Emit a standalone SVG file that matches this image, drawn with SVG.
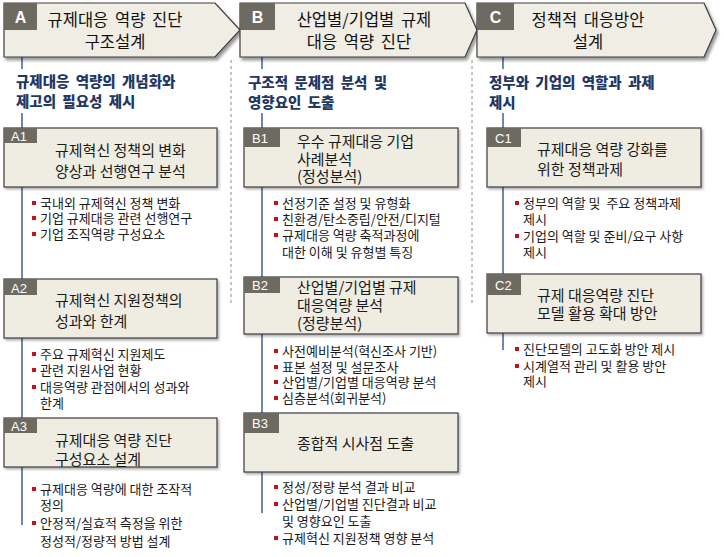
<svg xmlns="http://www.w3.org/2000/svg" width="724" height="557" viewBox="0 0 724 557">
<defs>
<filter id="sh" x="-5%" y="-10%" width="115%" height="130%">
<feDropShadow dx="2" dy="3" stdDeviation="1.6" flood-color="#000" flood-opacity="0.4"/>
</filter>
<filter id="sh2" x="-5%" y="-10%" width="115%" height="130%">
<feDropShadow dx="1.5" dy="2" stdDeviation="1.2" flood-color="#000" flood-opacity="0.3"/>
</filter>
<style>
.hd{fill:#efede4;stroke:#3c3c3c;stroke-width:1.2;filter:url(#sh)}
.bx{fill:#efece2;stroke:#3c3c3c;stroke-width:1.2;filter:url(#sh2)}
.lb{fill:#6d6a62}
.lt{fill:#fff;font-family:"Liberation Sans",Arial,sans-serif;font-size:13px}
.ht{fill:#fff;font-family:"Liberation Sans",Arial,sans-serif;font-size:16px;font-weight:bold;text-anchor:middle}
.h{font-family:"Noto Sans CJK KR","Noto Sans",sans-serif;font-size:16.5px;word-spacing:3px;fill:#111;text-anchor:middle}
.sub{font-family:"Noto Sans CJK KR",sans-serif;font-size:14.5px;word-spacing:3px;font-weight:900;fill:#1f3864}
.t{font-family:"Noto Sans CJK KR",sans-serif;font-size:15px;fill:#1a1a1a}
.b{font-family:"Noto Sans CJK KR",sans-serif;font-size:13px;fill:#1a1a1a;white-space:pre}
.bul{fill:#c0141c}
.vl{stroke:#6d89b3;stroke-width:2;fill:none}
.dv{stroke:#8a8a8a;stroke-width:1;stroke-dasharray:3 3;fill:none}
</style>
</defs>
<rect width="724" height="557" fill="#fff"/>

<g id="connectors">
<path class="dv" d="M231,60V303M472,60V305"/>
<path class="vl" d="M22,57V69M22,113V128M22,187V279M22,338V418M22,467V525"/>
<path class="vl" d="M262,57V69M262,113V128M262,187V277M262,334V413M262,472V513"/>
<path class="vl" d="M503,57V69M503,113V128M503,187V274M503,333V350"/>
</g>

<g id="header-A">
<path class="hd" d="M4,3H215L240,30L215,57H4Z"/>
<rect class="lb" x="4" y="3" width="33" height="27"/>
<text class="ht" x="20.5" y="23">A</text>
<text class="h" x="115" y="26">규제대응 역량 진단</text>
<text class="h" x="115" y="48">구조설계</text>
<text class="sub" x="16" y="87">규제대응 역량의 개념화와</text>
<text class="sub" x="16" y="107">제고의 필요성 제시</text>
</g>

<g id="header-B">
<path class="hd" d="M240,3H465L477,30L465,57H240Z"/>
<rect class="lb" x="240" y="3" width="35" height="27"/>
<text class="ht" x="257.5" y="23">B</text>
<text class="h" x="364" y="26">산업별/기업별 규제</text>
<text class="h" x="359" y="48">대응 역량 진단</text>
<text class="sub" x="248" y="88">구조적 문제점 분석 및</text>
<text class="sub" x="248" y="108">영향요인 도출</text>
</g>

<g id="header-C">
<path class="hd" d="M477,3H704L716,30L704,57H477Z"/>
<rect class="lb" x="477" y="3" width="37" height="27"/>
<text class="ht" x="495.5" y="23">C</text>
<text class="h" x="588" y="26">정책적 대응방안</text>
<text class="h" x="588" y="48">설계</text>
<text class="sub" x="489" y="88">정부와 기업의 역할과 과제</text>
<text class="sub" x="489" y="108">제시</text>
</g>

<g id="A1">
<rect class="bx" x="4" y="128" width="213" height="59"/>
<rect class="lb" x="4" y="128" width="33" height="15"/>
<text class="lt" x="11" y="141">A1</text>
<text class="t" x="55" y="156">규제혁신 정책의 변화</text>
<text class="t" x="55" y="177">양상과 선행연구 분석</text>
<rect class="bul" x="32" y="201" width="4" height="4"/>
<rect class="bul" x="32" y="216" width="4" height="4"/>
<rect class="bul" x="32" y="232" width="4" height="4"/>
<text class="b" x="40" y="208">국내외 규제혁신 정책 변화</text>
<text class="b" x="40" y="223">기업 규제대응 관련 선행연구</text>
<text class="b" x="40" y="239">기업 조직역량 구성요소</text>
</g>

<g id="A2">
<rect class="bx" x="4" y="279" width="213" height="59"/>
<rect class="lb" x="4" y="279" width="33" height="16"/>
<text class="lt" x="11" y="293">A2</text>
<text class="t" x="55" y="306">규제혁신 지원정책의</text>
<text class="t" x="55" y="327">성과와 한계</text>
<rect class="bul" x="32" y="352" width="4" height="4"/>
<rect class="bul" x="32" y="368" width="4" height="4"/>
<rect class="bul" x="32" y="385" width="4" height="4"/>
<text class="b" x="40" y="359">주요 규제혁신 지원제도</text>
<text class="b" x="40" y="375">관련 지원사업 현황</text>
<text class="b" x="40" y="392">대응역량 관점에서의 성과와</text>
<text class="b" x="40" y="408">한계</text>
</g>

<g id="A3">
<rect class="bx" x="4" y="418" width="213" height="49"/>
<rect class="lb" x="4" y="418" width="33" height="15"/>
<text class="lt" x="11" y="431">A3</text>
<text class="t" x="55" y="446">규제대응 역량 진단</text>
<text class="t" x="55" y="465">구성요소 설계</text>
<rect class="bul" x="32" y="487" width="4" height="4"/>
<rect class="bul" x="32" y="521" width="4" height="4"/>
<text class="b" x="40" y="494">규제대응 역량에 대한 조작적</text>
<text class="b" x="40" y="510">정의</text>
<text class="b" x="40" y="528">안정적/실효적 측정을 위한</text>
<text class="b" x="40" y="546">정성적/정량적 방법 설계</text>
</g>

<g id="B1">
<rect class="bx" x="244" y="128" width="214" height="59"/>
<rect class="lb" x="244" y="128" width="36" height="19"/>
<text class="lt" x="252" y="143">B1</text>
<text class="t" x="297" y="147">우수 규제대응 기업</text>
<text class="t" x="297" y="165">사례분석</text>
<text class="t" x="297" y="182">(정성분석)</text>
<rect class="bul" x="274" y="201" width="4" height="4"/>
<rect class="bul" x="274" y="217" width="4" height="4"/>
<rect class="bul" x="274" y="233" width="4" height="4"/>
<text class="b" x="282" y="208">선정기준 설정 및 유형화</text>
<text class="b" x="282" y="224">친환경/탄소중립/안전/디지털</text>
<text class="b" x="282" y="240">규제대응 역량 축적과정에</text>
<text class="b" x="282" y="257">대한 이해 및 유형별 특징</text>
</g>

<g id="B2">
<rect class="bx" x="244" y="277" width="214" height="57"/>
<rect class="lb" x="244" y="277" width="36" height="16"/>
<text class="lt" x="252" y="290">B2</text>
<text class="t" x="297" y="293">산업별/기업별 규제</text>
<text class="t" x="297" y="311">대응역량 분석</text>
<text class="t" x="297" y="329">(정량분석)</text>
<rect class="bul" x="274" y="349" width="4" height="4"/>
<rect class="bul" x="274" y="365" width="4" height="4"/>
<rect class="bul" x="274" y="380" width="4" height="4"/>
<rect class="bul" x="274" y="396" width="4" height="4"/>
<text class="b" x="282" y="356">사전예비분석(혁신조사 기반)</text>
<text class="b" x="282" y="372">표본 설정 및 설문조사</text>
<text class="b" x="282" y="387">산업별/기업별 대응역량 분석</text>
<text class="b" x="282" y="403">심층분석(회귀분석)</text>
</g>

<g id="B3">
<rect class="bx" x="244" y="413" width="214" height="59"/>
<rect class="lb" x="244" y="413" width="35" height="20"/>
<text class="lt" x="252" y="428">B3</text>
<text class="t" x="297" y="449">종합적 시사점 도출</text>
<rect class="bul" x="274" y="485" width="4" height="4"/>
<rect class="bul" x="274" y="502" width="4" height="4"/>
<rect class="bul" x="274" y="536" width="4" height="4"/>
<text class="b" x="282" y="492">정성/정량 분석 결과 비교</text>
<text class="b" x="282" y="509">산업별/기업별 진단결과 비교</text>
<text class="b" x="282" y="526">및 영향요인 도출</text>
<text class="b" x="282" y="543">규제혁신 지원정책 영향 분석</text>
</g>

<g id="C1">
<rect class="bx" x="487" y="128" width="214" height="59"/>
<rect class="lb" x="487" y="128" width="34" height="19"/>
<text class="lt" x="495" y="143">C1</text>
<text class="t" x="537" y="155">규제대응 역량 강화를</text>
<text class="t" x="537" y="175">위한 정책과제</text>
<rect class="bul" x="515" y="201" width="4" height="4"/>
<rect class="bul" x="515" y="234" width="4" height="4"/>
<text class="b" x="523" y="208">정부의 역할 및  주요 정책과제</text>
<text class="b" x="523" y="224">제시</text>
<text class="b" x="523" y="241">기업의 역할 및 준비/요구 사항</text>
<text class="b" x="523" y="257">제시</text>
</g>

<g id="C2">
<rect class="bx" x="487" y="274" width="214" height="59"/>
<rect class="lb" x="487" y="274" width="34" height="21"/>
<text class="lt" x="495" y="290">C2</text>
<text class="t" x="537" y="301">규제 대응역량 진단</text>
<text class="t" x="537" y="319">모델 활용 확대 방안</text>
<rect class="bul" x="515" y="347" width="4" height="4"/>
<rect class="bul" x="515" y="364" width="4" height="4"/>
<text class="b" x="523" y="354">진단모델의 고도화 방안 제시</text>
<text class="b" x="523" y="371">시계열적 관리 및 활용 방안</text>
<text class="b" x="523" y="386">제시</text>
</g>
</svg>
